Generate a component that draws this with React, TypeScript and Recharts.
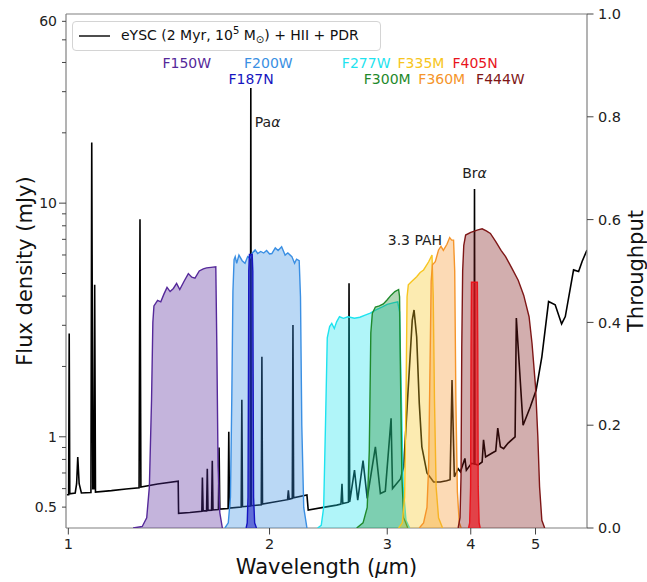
import React from 'react';
import {Area, ComposedChart, Line, ReferenceDot, ReferenceLine, XAxis, YAxis} from 'recharts';

// model spectrum: [wavelength (um), flux density (mJy)]
const spectrum: [number, number][] = [
    [0.995, 0.565], [1.001, 0.565], [1.003, 2.77], [1.005, 0.57], [1.024, 0.575],
    [1.029, 0.63], [1.033, 0.82], [1.038, 0.63], [1.046, 0.575], [1.081, 0.577],
    [1.084, 18.2], [1.088, 0.6], [1.092, 0.6], [1.095, 4.47], [1.098, 0.58],
    [1.16, 0.588], [1.22, 0.598], [1.276, 0.605], [1.28, 8.54], [1.284, 0.61],
    [1.36, 0.628], [1.46, 0.646], [1.462, 0.47], [1.52, 0.474], [1.584, 0.48],
    [1.587, 0.67], [1.591, 0.482], [1.61, 0.482], [1.614, 0.73], [1.618, 0.484],
    [1.638, 0.485], [1.642, 0.79], [1.646, 0.486], [1.677, 0.488], [1.681, 0.9],
    [1.685, 0.49], [1.734, 0.493], [1.738, 1.05], [1.742, 0.495], [1.814, 0.5],
    [1.818, 1.44], [1.822, 0.502], [1.872, 0.505], [1.875, 31.1], [1.878, 0.507],
    [1.944, 0.512], [1.948, 2.2], [1.952, 0.515], [2.128, 0.538], [2.134, 0.59],
    [2.14, 0.54], [2.163, 0.545], [2.168, 3.01], [2.173, 0.548], [2.275, 0.563],
    [2.285, 0.486], [2.42, 0.5], [2.52, 0.51], [2.558, 0.515], [2.567, 0.63],
    [2.574, 0.518], [2.625, 0.525], [2.63, 4.54], [2.636, 0.527], [2.68, 0.72],
    [2.71, 0.535], [2.76, 0.79], [2.8, 0.545], [2.88, 0.906], [2.93, 0.572],
    [2.98, 0.585], [3.04, 1.2], [3.055, 0.6], [3.14, 0.66], [3.175, 0.744],
    [3.215, 1.39], [3.27, 3.16], [3.29, 3.49], [3.32, 2.68], [3.35, 1.39],
    [3.38, 0.906], [3.44, 0.7], [3.52, 0.64], [3.6, 0.64], [3.68, 0.648],
    [3.725, 0.655], [3.75, 1.75], [3.78, 0.674], [3.83, 0.73], [3.86, 0.708],
    [3.92, 0.808], [3.94, 0.72], [4.01, 0.77], [4.046, 0.765], [4.052, 11.5],
    [4.058, 0.765], [4.1, 0.757], [4.16, 0.78], [4.18, 0.97], [4.21, 0.82],
    [4.3, 0.85], [4.36, 0.87], [4.39, 1.09], [4.43, 0.906], [4.48, 0.89],
    [4.55, 0.94], [4.66, 1.0], [4.68, 3.22], [4.79, 1.12], [4.91, 1.34],
    [5.01, 1.58], [5.11, 2.2], [5.23, 3.79], [5.35, 3.67], [5.47, 3.04],
    [5.54, 3.27], [5.7, 5.18], [5.8, 5.1], [5.87, 5.63], [5.97, 6.3],
];

// NIRCam filter throughputs: [wavelength (um), throughput]
const F150W: [number, number][] = [
    [1.25, 0], [1.29, 0.003], [1.31, 0.02], [1.322, 0.08], [1.332, 0.25], [1.338, 0.4],
    [1.343, 0.432], [1.36, 0.443], [1.375, 0.44], [1.39, 0.455], [1.405, 0.468], [1.42, 0.46],
    [1.436, 0.466], [1.452, 0.476], [1.468, 0.464], [1.49, 0.48], [1.512, 0.495], [1.53, 0.488],
    [1.547, 0.486], [1.57, 0.5], [1.592, 0.504], [1.61, 0.506], [1.635, 0.507], [1.662, 0.508],
    [1.668, 0.35], [1.675, 0.12], [1.685, 0.03], [1.7, 0],
];
const F200W: [number, number][] = [
    [1.715, 0], [1.735, 0.01], [1.748, 0.06], [1.756, 0.25], [1.763, 0.46], [1.77, 0.522],
    [1.777, 0.528], [1.786, 0.515], [1.8, 0.531], [1.82, 0.52], [1.838, 0.515], [1.855, 0.528],
    [1.87, 0.525], [1.885, 0.535], [1.903, 0.541], [1.92, 0.534], [1.94, 0.538], [1.96, 0.535],
    [1.98, 0.54], [2.0, 0.533], [2.016, 0.534], [2.04, 0.545], [2.06, 0.54], [2.085, 0.547],
    [2.11, 0.531], [2.13, 0.535], [2.16, 0.528], [2.18, 0.515], [2.195, 0.523], [2.215, 0.52],
    [2.225, 0.45], [2.235, 0.2], [2.25, 0.04], [2.275, 0],
];
const F187N: [number, number][] = [
    [1.845, 0], [1.852, 0.01], [1.857, 0.06], [1.86, 0.3], [1.862, 0.5], [1.866, 0.532],
    [1.884, 0.532], [1.888, 0.5], [1.89, 0.3], [1.893, 0.06], [1.9, 0.01], [1.912, 0],
];
const F277W: [number, number][] = [
    [2.36, 0], [2.39, 0.005], [2.41, 0.04], [2.425, 0.2], [2.44, 0.37], [2.46, 0.392],
    [2.478, 0.398], [2.5, 0.388], [2.52, 0.401], [2.545, 0.411], [2.58, 0.408], [2.62, 0.411],
    [2.68, 0.408], [2.73, 0.41], [2.78, 0.414], [2.83, 0.418], [2.88, 0.424], [2.95, 0.43],
    [3.0, 0.435], [3.06, 0.438], [3.11, 0.44], [3.13, 0.42], [3.15, 0.25], [3.17, 0.08],
    [3.2, 0.015], [3.24, 0],
];
const F300M: [number, number][] = [
    [2.7, 0], [2.76, 0.01], [2.8, 0.04], [2.82, 0.15], [2.835, 0.38], [2.85, 0.418],
    [2.88, 0.43], [2.92, 0.432], [2.96, 0.436], [3.0, 0.444], [3.04, 0.453], [3.08, 0.46],
    [3.12, 0.464], [3.13, 0.45], [3.14, 0.3], [3.155, 0.1], [3.175, 0.02], [3.22, 0],
];
const F335M: [number, number][] = [
    [3.12, 0], [3.16, 0.01], [3.185, 0.06], [3.2, 0.25], [3.212, 0.45], [3.226, 0.473],
    [3.26, 0.479], [3.32, 0.489], [3.36, 0.497], [3.4, 0.502], [3.46, 0.518], [3.5, 0.531],
    [3.515, 0.45], [3.53, 0.25], [3.55, 0.08], [3.58, 0.02], [3.63, 0],
];
const F360M: [number, number][] = [
    [3.35, 0], [3.4, 0.01], [3.44, 0.04], [3.46, 0.12], [3.475, 0.3], [3.49, 0.48],
    [3.505, 0.512], [3.54, 0.518], [3.58, 0.541], [3.61, 0.548], [3.64, 0.54], [3.685, 0.552],
    [3.72, 0.565], [3.745, 0.56], [3.77, 0.56], [3.785, 0.5], [3.8, 0.25], [3.82, 0.07],
    [3.845, 0.01], [3.87, 0],
];
const F405N: [number, number][] = [
    [3.97, 0], [3.985, 0.01], [3.998, 0.08], [4.004, 0.35], [4.01, 0.478],
    [4.092, 0.478], [4.098, 0.35], [4.104, 0.08], [4.117, 0.01], [4.132, 0],
];
const F444W: [number, number][] = [
    [3.83, 0], [3.855, 0.02], [3.868, 0.1], [3.878, 0.35], [3.89, 0.5], [3.905, 0.55],
    [3.93, 0.57], [4.0, 0.575], [4.04, 0.577], [4.1, 0.58], [4.16, 0.582], [4.22, 0.578],
    [4.28, 0.573], [4.36, 0.557], [4.44, 0.54], [4.51, 0.528], [4.61, 0.505], [4.71, 0.482],
    [4.8, 0.453], [4.89, 0.411], [4.94, 0.359], [5.0, 0.275], [5.04, 0.177], [5.07, 0.08],
    [5.11, 0.015], [5.16, 0],
];

const waveTicks = [1, 2, 3, 4, 5];
const fluxTicks = [0.5, 0.6, 0.7, 0.8, 0.9, 1, 2, 3, 4, 5, 6, 7, 8, 9, 10, 20, 30, 40, 50, 60];
const fluxLabelled = [0.5, 1, 10, 60];
const fluxMajor = [1, 10];
const thruTicks = [0, 0.2, 0.4, 0.6, 0.8, 1.0];

// filter name anchors: [wavelength, throughput row]
const filterLabelWave = [1.504, 1.992, 1.877, 2.79, 3.0, 3.37, 3.62, 4.06, 4.43];
const filterLabelRow = [0.905, 0.905, 0.874, 0.905, 0.874, 0.905, 0.874, 0.905, 0.874];

const filters = [
    {name: 'F150W', curve: F150W, color: '#55299a', opacity: 0.35},
    {name: 'F200W', curve: F200W, color: '#3a8fe3', opacity: 0.35},
    {name: 'F187N', curve: F187N, color: '#1515c0', opacity: 0.55},
    {name: 'F277W', curve: F277W, color: '#1ee3ef', opacity: 0.35},
    {name: 'F300M', curve: F300M, color: '#1f8a2c', opacity: 0.35},
    {name: 'F335M', curve: F335M, color: '#f7c520', opacity: 0.35},
    {name: 'F360M', curve: F360M, color: '#f5952a', opacity: 0.35},
    {name: 'F444W', curve: F444W, color: '#7e1616', opacity: 0.35},
    {name: 'F405N', curve: F405N, color: '#e8141c', opacity: 0.7},
];
const labelOrder = ['F150W', 'F200W', 'F187N', 'F277W', 'F300M', 'F335M', 'F360M', 'F405N', 'F444W'];

const spectrumData = spectrum.map(([w, f]) => ({w, f}));

const FONT = 'DejaVu Sans, Verdana, sans-serif';
const SPINE = '#808080';
const TICK = '#444';

const FluxTick = (props: any) => {
    const {x, y, payload} = props;
    const v = payload.value;
    const len = fluxMajor.some(m => Math.abs(m - v) < 1e-9) ? 7 : 4;
    const show = fluxLabelled.some(m => Math.abs(m - v) < 1e-9);
    return (
        <g>
            <line x1={x - len} x2={x} y1={y} y2={y} stroke={TICK} strokeWidth={1}/>
            {show && <text x={x - 9} y={y} dy="0.36em" textAnchor="end" fontSize={14} fill="#222">{String(v)}</text>}
        </g>
    );
};

const ThruTick = (props: any) => {
    const {x, y, payload} = props;
    return (
        <g>
            <line x1={x} x2={x + 6.5} y1={y} y2={y} stroke={TICK} strokeWidth={1}/>
            <text x={x + 11} y={y} dy="0.36em" textAnchor="start" fontSize={14.5} fill="#222">{payload.value.toFixed(1)}</text>
        </g>
    );
};

const WaveTick = (props: any) => {
    const {x, y, payload} = props;
    return (
        <g>
            <line x1={x} x2={x} y1={y} y2={y + 6.5} stroke={TICK} strokeWidth={1}/>
            <text x={x} y={y + 21} textAnchor="middle" fontSize={14.5} fill="#222">{payload.value}</text>
        </g>
    );
};

const lineLabel = (text: string, greek: string, anchor: 'start' | 'middle', dx: number) => (p: any) => {
    const {x, y} = p.viewBox;
    return (
        <text x={x + dx} y={y} dy="0.36em" textAnchor={anchor} fontSize={14} fill="#222">
            {text}<tspan fontStyle="italic">{greek}</tspan>
        </text>
    );
};

const App = () => {
    return (
        <div style={{position: 'absolute', left: 0, top: 0, width: 647, height: 582, fontFamily: FONT, background: '#fff'}}>
            <ComposedChart width={647} height={582} margin={{top: 14, right: 0, left: 0, bottom: 0}}>
                <XAxis
                    dataKey="w"
                    type="number"
                    scale="log"
                    domain={[0.992, 5.97]}
                    allowDataOverflow
                    ticks={waveTicks}
                    interval={0}
                    height={54}
                    tickSize={0}
                    tickMargin={0}
                    tick={(p: any) => <WaveTick {...p}/>}
                    axisLine={{stroke: SPINE, strokeWidth: 1.2}}
                    label={{
                        content: (p: any) => (
                            <text x={p.viewBox.x + p.viewBox.width / 2} y={p.viewBox.y + 46} textAnchor="middle" fontSize={21} fill="#111">
                                Wavelength (<tspan fontStyle="italic">μ</tspan>m)
                            </text>
                        ),
                    }}
                />
                <YAxis
                    yAxisId="flux"
                    type="number"
                    scale="log"
                    domain={[0.407, 64.5]}
                    allowDataOverflow
                    ticks={fluxTicks}
                    interval={0}
                    width={66}
                    tickSize={0}
                    tickMargin={0}
                    tick={(p: any) => <FluxTick {...p}/>}
                    axisLine={{stroke: SPINE, strokeWidth: 1.2}}
                    label={{
                        content: (p: any) => {
                            const cx = p.viewBox.x + 32;
                            const cy = p.viewBox.y + p.viewBox.height / 2;
                            return (
                                <text x={cx} y={cy} transform={`rotate(-90 ${cx} ${cy})`} textAnchor="middle" fontSize={21} fill="#111">
                                    Flux density (mJy)
                                </text>
                            );
                        },
                    }}
                />
                <YAxis
                    yAxisId="thr"
                    orientation="right"
                    type="number"
                    domain={[0, 1]}
                    allowDataOverflow
                    ticks={thruTicks}
                    interval={0}
                    width={60}
                    tickSize={0}
                    tickMargin={0}
                    tick={(p: any) => <ThruTick {...p}/>}
                    axisLine={{stroke: SPINE, strokeWidth: 1.2}}
                    label={{
                        content: (p: any) => {
                            const cx = p.viewBox.x + 56;
                            const cy = p.viewBox.y + p.viewBox.height / 2;
                            return (
                                <text x={cx} y={cy} transform={`rotate(-90 ${cx} ${cy})`} textAnchor="middle" fontSize={21} fill="#111">
                                    Throughput
                                </text>
                            );
                        },
                    }}
                />
                <ReferenceLine yAxisId="thr" y={1} stroke={SPINE} strokeWidth={1.2}/>

                <Line
                    yAxisId="flux"
                    data={spectrumData}
                    dataKey="f"
                    type="linear"
                    stroke="#000"
                    strokeWidth={1.6}
                    dot={false}
                    activeDot={false}
                    isAnimationActive={false}
                />

                {filters.map(flt => (
                    <Area
                        key={flt.name}
                        yAxisId="thr"
                        data={flt.curve.map(([w, t]) => ({w, t}))}
                        dataKey="t"
                        type="linear"
                        stroke={flt.color}
                        strokeWidth={1.4}
                        fill={flt.color}
                        fillOpacity={flt.opacity}
                        dot={false}
                        activeDot={false}
                        isAnimationActive={false}
                        zIndex={500}
                    />
                ))}

                {labelOrder.map((name, i) => {
                    const flt = filters.find(f => f.name === name)!;
                    return (
                        <ReferenceDot
                            key={name}
                            yAxisId="thr"
                            x={filterLabelWave[i]}
                            y={filterLabelRow[i]}
                            r={0}
                            fill="none"
                            stroke="none"
                            label={{value: name, position: 'center', fill: flt.color, fontSize: 14}}
                        />
                    );
                })}

                <ReferenceDot yAxisId="flux" x={1.875} y={22.3} r={0} fill="none" stroke="none"
                              label={{content: lineLabel('Pa', 'α', 'start', 4)}}/>
                <ReferenceDot yAxisId="flux" x={4.052} y={13.4} r={0} fill="none" stroke="none"
                              label={{content: lineLabel('Br', 'α', 'middle', 0)}}/>
                <ReferenceDot yAxisId="flux" x={3.3} y={6.96} r={0} fill="none" stroke="none"
                              label={{content: lineLabel('3.3 PAH', '', 'middle', 0)}}/>
            </ComposedChart>

            <div style={{
                position: 'absolute', left: 72, top: 21, width: 309, height: 30, boxSizing: 'border-box',
                border: '1px solid #d4d4d4', borderRadius: 4, background: 'rgba(255,255,255,0.85)',
                fontSize: 14, color: '#111', whiteSpace: 'nowrap',
            }}>
                <svg width={40} height={28} style={{position: 'absolute', left: 0, top: 0}}>
                    <line x1={6} x2={37} y1={14} y2={14} stroke="#000" strokeWidth={1.4}/>
                </svg>
                <span style={{position: 'absolute', left: 48, top: 5}}>
                    eYSC (2 Myr, 10<sup style={{fontSize: 10, verticalAlign: 0, position: 'relative', top: -6}}>5</sup> M<sub style={{fontSize: 10, verticalAlign: 0, position: 'relative', top: 3}}>⊙</sub>) + HII + PDR
                </span>
            </div>
        </div>
    );
};

export default App;
